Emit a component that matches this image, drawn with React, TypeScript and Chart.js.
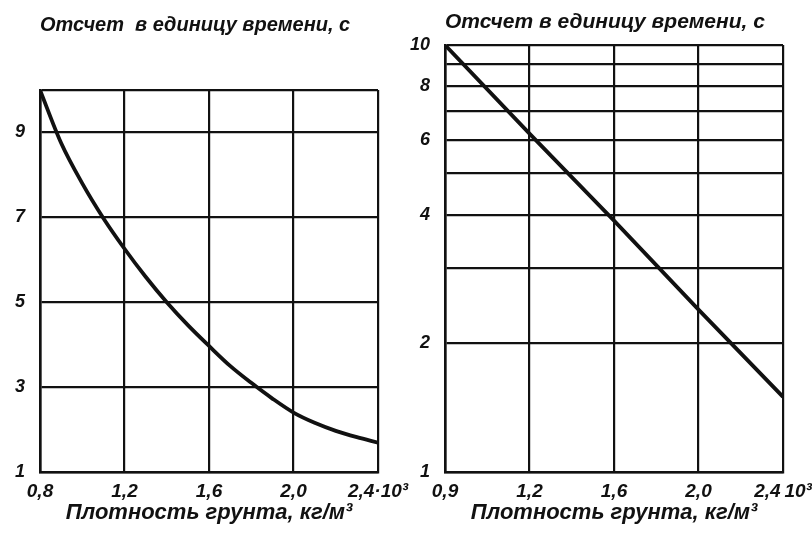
import React, { useEffect, useRef } from 'react';
import { Chart, registerables } from 'chart.js';

Chart.register(...registerables);

// ---- Data ----
const Y_TITLE_LEFT = 'Отсчет  в единицу времени, с';
const Y_TITLE_RIGHT = 'Отсчет в единицу времени, с';
const X_TITLE = 'Плотность грунта, кг/м³';

const LEFT_X = [0.8, 0.9, 1.0, 1.1, 1.2, 1.3, 1.4, 1.5, 1.6, 1.7, 1.8, 1.9, 2.0, 2.1, 2.2, 2.3, 2.4];
const LEFT_Y = [10, 8.75, 7.8, 6.98, 6.26, 5.6, 5.0, 4.46, 3.97, 3.5, 3.1, 2.73, 2.4, 2.16, 1.97, 1.82, 1.69];
const LEFT_X_TICKS = [0.8, 1.2, 1.6, 2.0, 2.4];
const LEFT_X_LABELS = ['0,8', '1,2', '1,6', '2,0', '2,4·10³'];
const LEFT_Y_TICKS = [1, 3, 5, 7, 9, 10];
const LEFT_Y_LABELS = ['1', '3', '5', '7', '9', ''];

const RIGHT_X = [0.8, 1.2, 1.6, 2.0, 2.4];
const RIGHT_Y = [10, 6.2, 3.88, 2.4, 1.5];
const RIGHT_X_TICKS = [0.8, 1.2, 1.6, 2.0, 2.4];
const RIGHT_X_LABELS = ['0,9', '1,2', '1,6', '2,0', '2,4\u200910³'];
const RIGHT_Y_TICKS = [1, 2, 3, 4, 5, 6, 7, 8, 9, 10];
const RIGHT_Y_LABELS = ['1', '2', '', '4', '', '6', '', '8', '', '10'];

const INK = '#111111';
const FONT_FAMILY = '"Liberation Sans", "DejaVu Sans", sans-serif';

type Geo = {
  width: number;
  height: number;
  left: number;
  right: number;
  top: number;
  bottom: number;
  titleTop: number;
  titleSize: number;
};

function makeConfig(
  xs: number[],
  ys: number[],
  xTicks: number[],
  xLabels: string[],
  yTicks: number[],
  yLabels: string[],
  logY: boolean,
  curved: boolean,
  yTitle: string,
  geo: Geo
): any {
  const titleSize = geo.titleSize;
  const titleLH = 1.2;
  const titleH = titleSize * titleLH;
  return {
    type: 'line',
    data: {
      datasets: [
        {
          data: xs.map((x, i) => ({ x, y: ys[i] })),
          borderColor: INK,
          borderWidth: 3.8,
          pointRadius: 0,
          fill: false,
          cubicInterpolationMode: curved ? 'monotone' : 'default',
          tension: 0,
        },
      ],
    },
    options: {
      responsive: false,
      animation: false,
      devicePixelRatio: 1,
      layout: {
        padding: { left: 0, top: 0, right: geo.width - geo.right, bottom: 0 },
      },
      plugins: {
        legend: { display: false },
        tooltip: { enabled: false },
        title: {
          display: true,
          text: yTitle,
          align: 'start',
          fullSize: false,
          color: INK,
          font: { family: FONT_FAMILY, size: titleSize, style: 'italic', weight: 'bold', lineHeight: titleLH },
          padding: { top: geo.titleTop, bottom: geo.top - geo.titleTop - titleH },
        },
      },
      scales: {
        x: {
          type: 'linear',
          min: xTicks[0],
          max: xTicks[xTicks.length - 1],
          afterBuildTicks: (s: any) => {
            s.ticks = xTicks.map((v) => ({ value: v }));
          },
          afterFit: (s: any) => {
            s.height = geo.height - geo.bottom;
            s.paddingLeft = 0;
            s.paddingRight = 0;
          },
          grid: { color: INK, lineWidth: 2.2, drawTicks: false },
          border: { display: true, color: INK, width: 2.6 },
          ticks: {
            color: INK,
            padding: 8,
            maxRotation: 0,
            autoSkip: false,
            font: { family: FONT_FAMILY, size: 19, style: 'italic', weight: 'bold' },
            callback: (_v: any, i: number) => xLabels[i],
          },
          title: {
            display: true,
            text: X_TITLE,
            color: INK,
            padding: { top: 0, bottom: 7 },
            font: { family: FONT_FAMILY, size: 22, style: 'italic', weight: 'bold', lineHeight: 1.2 },
          },
        },
        y: {
          type: logY ? 'logarithmic' : 'linear',
          min: yTicks[0],
          max: yTicks[yTicks.length - 1],
          afterBuildTicks: (s: any) => {
            s.ticks = yTicks.map((v) => ({ value: v }));
          },
          afterFit: (s: any) => {
            s.width = geo.left;
            s.paddingTop = 0;
            s.paddingBottom = 0;
          },
          grid: { color: INK, lineWidth: 2.2, drawTicks: false },
          border: { display: true, color: INK, width: 2.6 },
          ticks: {
            color: INK,
            padding: 15,
            autoSkip: false,
            font: { family: FONT_FAMILY, size: 18, style: 'italic', weight: 'bold' },
            callback: (_v: any, i: number) => yLabels[i],
          },
        },
      },
    },
  };
}

function Panel(props: { config: any; x: number; width: number; height: number }) {
  const ref = useRef<HTMLCanvasElement | null>(null);
  useEffect(() => {
    if (!ref.current) return;
    const chart = new Chart(ref.current, props.config);
    return () => chart.destroy();
  }, []);
  return (
    <canvas
      ref={ref}
      width={props.width}
      height={props.height}
      style={{
        position: 'absolute',
        left: props.x,
        top: 0,
        width: props.width,
        height: props.height,
        display: 'block',
      }}
    />
  );
}

export default function App() {
  const leftGeo: Geo = { width: 430, height: 533, left: 40, right: 378, top: 90, bottom: 472, titleTop: 13, titleSize: 20 };
  const rightGeo: Geo = { width: 406, height: 533, left: 39, right: 377, top: 45, bottom: 472, titleTop: 10, titleSize: 21 };
  const leftCfg = makeConfig(LEFT_X, LEFT_Y, LEFT_X_TICKS, LEFT_X_LABELS, LEFT_Y_TICKS, LEFT_Y_LABELS, false, true, Y_TITLE_LEFT, leftGeo);
  const rightCfg = makeConfig(RIGHT_X, RIGHT_Y, RIGHT_X_TICKS, RIGHT_X_LABELS, RIGHT_Y_TICKS, RIGHT_Y_LABELS, true, false, Y_TITLE_RIGHT, rightGeo);
  return (
    <div style={{ position: 'absolute', left: 0, top: 0, width: 812, height: 533, background: '#fff', overflow: 'hidden' }}>
      <Panel config={leftCfg} x={0} width={430} height={533} />
      <Panel config={rightCfg} x={406} width={406} height={533} />
    </div>
  );
}
